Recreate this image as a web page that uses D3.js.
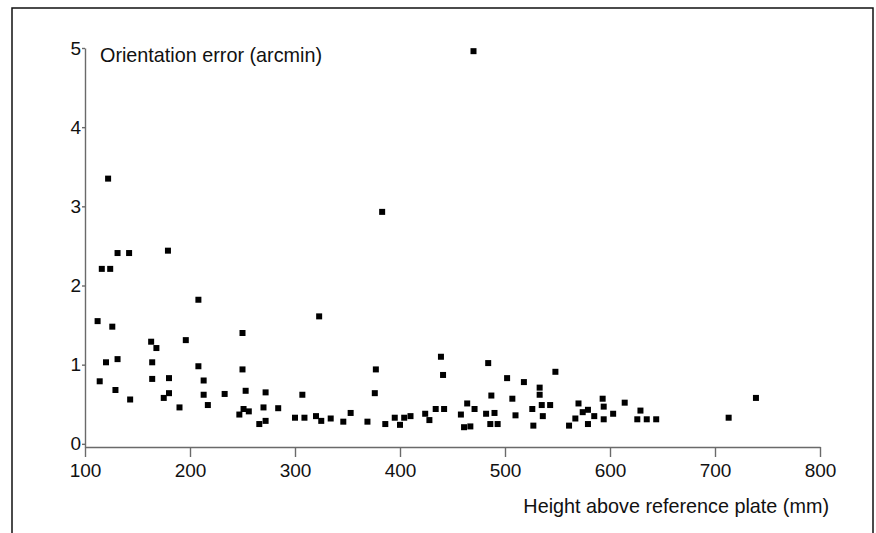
<!DOCTYPE html>
<html>
<head>
<meta charset="utf-8">
<script src="https://cdn.jsdelivr.net/npm/d3@7"></script>
<style>
  body { margin: 0; background: #fff; }
  svg text { font-family: "Liberation Sans", Arial, sans-serif; fill: #111; }
</style>
</head>
<body>
<svg id="chart" width="876" height="533"></svg>
<script>
// chart values
var height_mm = [122, 131, 142, 179, 116, 124, 208, 112, 126, 163, 196, 250, 168, 383, 323, 470,
  120, 131, 164, 208, 250, 114, 164, 180, 213, 129, 143, 175, 180, 190, 213, 217, 233, 253,
  251, 256, 247, 266, 272, 270, 272, 284, 307, 300, 309, 320, 325, 334, 346, 353, 369, 377,
  376, 386, 395, 400, 404, 410, 424, 428, 434, 439, 441, 442, 484, 502, 518, 548, 533, 533,
  487, 507, 464, 471, 458, 482, 490, 510, 526, 535, 543, 536, 461, 467, 486, 493, 527, 561,
  567, 570, 574, 579, 585, 579, 593, 594, 594, 603, 614, 629, 626, 635, 644, 713, 739];
var error_arcmin = [3.35, 2.41, 2.41, 2.44, 2.21, 2.21, 1.82, 1.55, 1.48, 1.29, 1.31, 1.40, 1.21, 2.93, 1.61, 4.96,
  1.03, 1.07, 1.03, 0.98, 0.94, 0.79, 0.82, 0.83, 0.80, 0.68, 0.56, 0.58, 0.64, 0.46, 0.62, 0.49, 0.63, 0.67,
  0.44, 0.41, 0.37, 0.25, 0.65, 0.46, 0.29, 0.45, 0.62, 0.33, 0.33, 0.35, 0.29, 0.32, 0.28, 0.39, 0.28, 0.94,
  0.64, 0.25, 0.33, 0.24, 0.33, 0.35, 0.38, 0.30, 0.44, 1.10, 0.87, 0.44, 1.02, 0.83, 0.78, 0.91, 0.71, 0.62,
  0.61, 0.57, 0.51, 0.44, 0.37, 0.38, 0.39, 0.36, 0.44, 0.49, 0.49, 0.35, 0.21, 0.22, 0.25, 0.25, 0.23, 0.23,
  0.32, 0.51, 0.40, 0.43, 0.35, 0.25, 0.57, 0.47, 0.31, 0.38, 0.52, 0.42, 0.31, 0.31, 0.31, 0.33, 0.58];
var x_ticks = [100, 200, 300, 400, 500, 600, 700, 800];
var y_ticks = [0, 1, 2, 3, 4, 5];
var x_title = 'Height above reference plate (mm)';
var y_title = 'Orientation error (arcmin)';

var points = height_mm.map(function(h, i) { return { h: h, e: error_arcmin[i] }; });

var svg = d3.select('#chart');

// frame round the figure (open at the bottom)
svg.append('path')
  .attr('d', 'M12,533V8H873V533')
  .attr('fill', 'none')
  .attr('stroke', '#111')
  .attr('stroke-width', 1.5);

var x = d3.scaleLinear().domain([100, 800]).range([85, 820]);
var y = d3.scaleLinear().domain([-0.04, 5]).range([447, 48]);

// x axis
var xAxis = svg.append('g')
  .attr('transform', 'translate(0,' + y(-0.04) + ')')
  .call(d3.axisBottom(x).tickValues(x_ticks).tickFormat(d3.format('d'))
    .tickSize(10).tickSizeOuter(0).tickPadding(6.5));

// y axis
var yAxis = svg.append('g')
  .attr('transform', 'translate(' + x(100) + ',0)')
  .call(d3.axisLeft(y).tickValues(y_ticks).tickFormat(d3.format('d'))
    .tickSize(3).tickSizeOuter(0).tickPadding(1));

[xAxis, yAxis].forEach(function(ax) {
  ax.select('.domain').attr('stroke', '#6a6a6a').attr('stroke-width', 1.4);
  ax.selectAll('.tick line').attr('stroke', '#6a6a6a').attr('stroke-width', 1.4);
  ax.selectAll('.tick text')
    .attr('fill', '#111')
    .style('font-family', '"Liberation Sans", Arial, sans-serif')
    .style('font-size', '19px');
});

// axis titles
svg.append('text')
  .attr('x', 100)
  .attr('y', 61.5)
  .style('font-size', '19.8px')
  .text(y_title);

svg.append('text')
  .attr('x', 829)
  .attr('y', 512.5)
  .attr('text-anchor', 'end')
  .style('font-size', '19.8px')
  .text(x_title);

// square markers
var s = 6;
svg.append('g').selectAll('rect')
  .data(points)
  .enter()
  .append('rect')
  .attr('x', function(d) { return x(d.h) - s / 2; })
  .attr('y', function(d) { return y(d.e) - s / 2; })
  .attr('width', s)
  .attr('height', s)
  .attr('fill', '#000');
</script>
</body>
</html>
